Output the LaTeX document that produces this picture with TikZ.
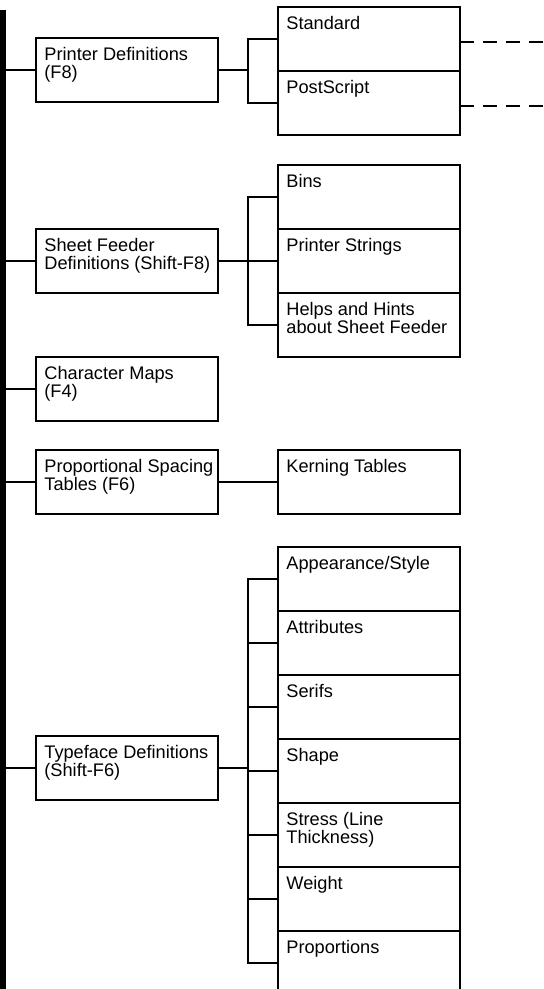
\documentclass[tikz,border=0pt]{standalone}
\usepackage{fontspec}
\setmainfont{Liberation Sans}
\usetikzlibrary{positioning}
\tikzset{
  menubox/.style={draw, line width=1.1pt, outer sep=0pt, inner xsep=0pt, inner ysep=4.75pt,
    anchor=north west,
    execute at begin node={\begin{minipage}[t][22.5pt][t]{91pt}\raggedright\leftskip=4.2pt\relax},
    execute at end node={\end{minipage}}},
  link/.style={line width=1pt},
}

\begin{document}
\begin{tikzpicture}[x=0.5pt, y=-0.5pt, every node/.style={font=\fontsize{9.1}{9}\selectfont}]
  \useasboundingbox (0,0) rectangle (544,989);
  \clip (0,0) rectangle (544,989);
  \coordinate (bar) at (3,0);
  \coordinate (brk) at (248,0);
  \coordinate (edge) at (544,0);
  \fill (0,10) rectangle (6,989);
  % first level
  \node[menubox] (pd) at (36,38) {Printer Definitions\\(F8)};
  \node[menubox] (sfd) at (36,229) {Sheet Feeder\\Definitions (Shift-F8)};
  \node[menubox] (cmap) at (36,357) {Character Maps\\(F4)};
  \node[menubox] (pst) at (36,450) {Proportional Spacing\\Tables (F6)};
  \node[menubox] (tfd) at (36,736) {Typeface Definitions\\(Shift-F6)};
  % second level
  \node[menubox] (std) at (278,7) {Standard};
  \node[menubox, below=0pt of std] (ps) {PostScript};
  \node[menubox] (bins) at (278,165) {Bins};
  \node[menubox, below=0pt of bins] (pstr) {Printer Strings};
  \node[menubox, below=0pt of pstr] (hints) {Helps and Hints\\about Sheet Feeder};
  \node[menubox] (kern) at (278,450) {Kerning Tables};
  \node[menubox] (app) at (278,547) {Appearance/Style};
  \node[menubox, below=0pt of app] (attr) {Attributes};
  \node[menubox, below=0pt of attr] (serif) {Serifs};
  \node[menubox, below=0pt of serif] (shape) {Shape};
  \node[menubox, below=0pt of shape] (stress) {Stress (Line\\Thickness)};
  \node[menubox, below=0pt of stress] (weight) {Weight};
  \node[menubox, below=0pt of weight] (prop) {Proportions};
  % connectors
  \foreach \p in {pd,sfd,cmap,pst,tfd}
    \draw[link] (\p.west) -- (\p.west -| bar);
  \foreach \p/\a/\b in {pd/std/ps, sfd/bins/hints, tfd/app/prop} {
    \draw[link] (\p.east) -- (\p.east -| brk);
    \draw[link] (\a.west) -- (\a.west -| brk) -- (\b.west -| brk) -- (\b.west);
  }
  \foreach \c in {pstr,attr,serif,shape,stress,weight}
    \draw[link] (\c.west) -- (\c.west -| brk);
  \draw[link] (pst.east) -- (kern.west);
  \foreach \c in {std,ps}
    \draw[link, dash pattern=on 7pt off 4.5pt] ([yshift=-1.5pt]\c.east) -- ([yshift=-1.5pt]\c.east -| edge);
\end{tikzpicture}
\end{document}
